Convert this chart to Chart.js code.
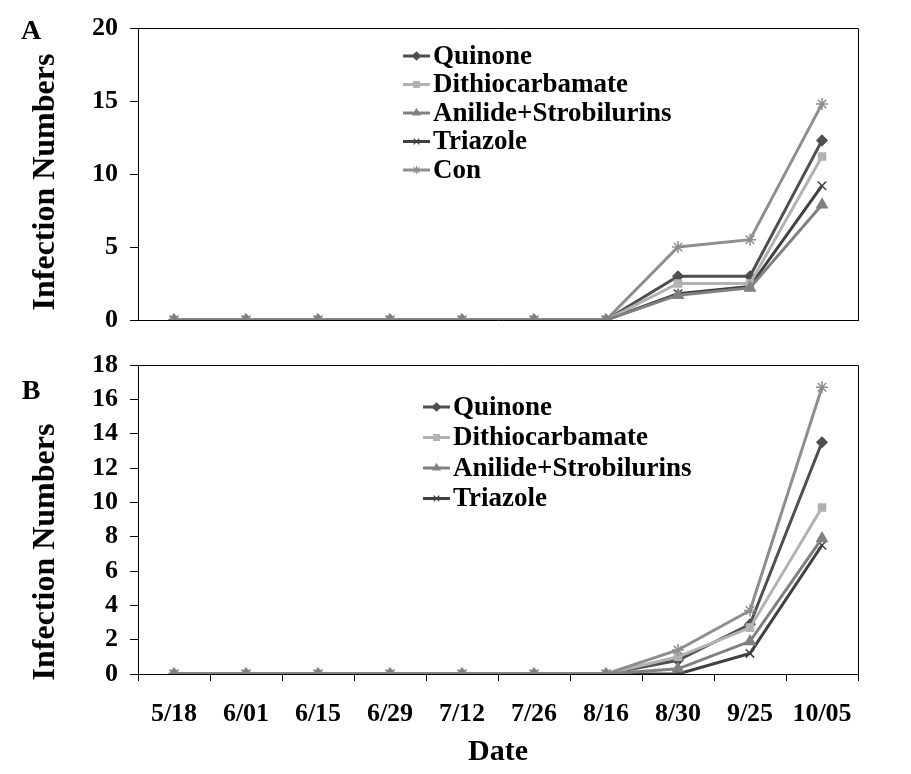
<!DOCTYPE html>
<html>
<head>
<meta charset="utf-8">
<script src="https://cdn.jsdelivr.net/npm/chart.js@4.4.0/dist/chart.umd.min.js"></script>
<style>
  body { margin: 0; background: #fff; }
  #wrap { position: relative; width: 911px; height: 774px; }
  canvas { position: absolute; left: 0; }
  #chartA { top: 0; }
  #chartB { top: 340px; }
</style>
</head>
<body>
<div id="wrap">
  <canvas id="chartA" width="911" height="345"></canvas>
  <canvas id="chartB" width="911" height="434"></canvas>
</div>
<script>
// DATA
const dates = ["5/18", "6/01", "6/15", "6/29", "7/12", "7/26", "8/16", "8/30", "9/25", "10/05"];

// panel A
const quinoneA  = [0, 0, 0, 0, 0, 0, 0, 3.0, 3.0, 12.3];
const dithioA   = [0, 0, 0, 0, 0, 0, 0, 2.5, 2.5, 11.2];
const anilideA  = [0, 0, 0, 0, 0, 0, 0, 1.7, 2.2, 7.9];
const triazoleA = [0, 0, 0, 0, 0, 0, 0, 1.8, 2.3, 9.2];
const conA      = [0, 0, 0, 0, 0, 0, 0, 5.0, 5.5, 14.8];

// panel B
const quinoneB  = [0, 0, 0, 0, 0, 0, 0, 0.8, 2.9, 13.5];
const dithioB   = [0, 0, 0, 0, 0, 0, 0, 1.0, 2.7, 9.7];
const anilideB  = [0, 0, 0, 0, 0, 0, 0, 0.3, 1.9, 7.9];
const triazoleB = [0, 0, 0, 0, 0, 0, 0, 0.0, 1.2, 7.5];
const conB      = [0, 0, 0, 0, 0, 0, 0, 1.4, 3.7, 16.7];

const ticksA = { min: 0, max: 20, step: 5 };
const ticksB = { min: 0, max: 18, step: 2 };

// series look (Excel greyscale)
const SERIF = '"Liberation Serif", "Times New Roman", serif';
const series = [
  { name: "Quinone",               color: "#4f4f4f", style: "rectRot",  radius: 5, order: 5 },
  { name: "Dithiocarbamate",       color: "#b2b2b2", style: "rect",     radius: 5, order: 3 },
  { name: "Anilide+Strobilurins",  color: "#808080", style: "triangle", radius: 6, order: 1 },
  { name: "Triazole",              color: "#404040", style: "crossRot", radius: 6, order: 4 },
  { name: "Con",                   color: "#8e8e8e", style: "star",     radius: 6, order: 2 }
];

function makeDatasets(values) {
  return values.map((vals, i) => ({
    label: series[i].name,
    data: vals,
    borderColor: series[i].color,
    backgroundColor: series[i].color,
    pointBackgroundColor: series[i].color,
    pointBorderColor: series[i].color,
    pointStyle: series[i].style,
    pointRadius: series[i].radius,
    pointBorderWidth: 1.5,
    borderWidth: 3,
    tension: 0,
    order: series[i].order
  }));
}

// frame, panel letter, y title, in-plot legend
const decor = {
  id: "decor",
  afterDraw(chart, args, o) {
    const ctx = chart.ctx;
    const a = chart.chartArea;
    ctx.save();
    ctx.strokeStyle = "#000";
    ctx.lineWidth = 1;
    ctx.beginPath();
    ctx.moveTo(a.left, a.top + 0.5);
    ctx.lineTo(a.right + 0.5, a.top + 0.5);
    ctx.lineTo(a.right + 0.5, a.bottom);
    ctx.stroke();

    ctx.fillStyle = "#000";
    ctx.font = "bold 28px " + SERIF;
    ctx.textAlign = "center";
    ctx.textBaseline = "middle";
    ctx.fillText(o.letter, o.letterX, o.letterY);

    ctx.save();
    ctx.translate(o.titleX, o.titleY);
    ctx.rotate(-Math.PI / 2);
    ctx.font = "bold 32px " + SERIF;
    ctx.textAlign = "center";
    ctx.textBaseline = "alphabetic";
    ctx.fillText("Infection Numbers", 0, 0);
    ctx.restore();

    // legend
    ctx.font = "bold 27px " + SERIF;
    ctx.textAlign = "left";
    ctx.textBaseline = "middle";
    for (let i = 0; i < o.count; i++) {
      const s = series[i];
      const y = o.legY + i * o.legGap;
      ctx.strokeStyle = s.color;
      ctx.lineWidth = 3;
      ctx.beginPath();
      ctx.moveTo(o.legX, y);
      ctx.lineTo(o.legX + 27, y);
      ctx.stroke();
      ctx.fillStyle = s.color;
      ctx.lineWidth = 1.2;
      if (Chart.helpers && Chart.helpers.drawPoint) {
        Chart.helpers.drawPoint(ctx, { pointStyle: s.style, radius: 4, borderWidth: 1.2, rotation: 0 }, o.legX + 13.5, y);
      }
      ctx.fillStyle = "#000";
      ctx.fillText(s.name, o.legX + 30, y + 1);
    }
    ctx.restore();
  }
};

function makeChart(id, values, tk, showX, opts) {
  return new Chart(document.getElementById(id), {
    type: "line",
    data: { labels: dates, datasets: makeDatasets(values) },
    plugins: [decor],
    options: {
      responsive: false,
      animation: false,
      devicePixelRatio: 1,
      layout: { padding: { top: opts.padTop, right: 53, left: 0, bottom: 0 } },
      plugins: {
        legend: { display: false },
        tooltip: { enabled: false },
        decor: opts
      },
      scales: {
        x: {
          offset: true,
          afterFit: s => { s.height = opts.xHeight; },
          grid: { display: showX, offset: true, drawOnChartArea: false, drawTicks: showX, tickLength: 7, color: "#000" },
          border: { display: true, color: "#000", width: 1 },
          ticks: { display: showX, color: "#000", padding: 18, maxRotation: 0, autoSkip: false, font: { family: SERIF, size: 26, weight: "bold" } },
          title: { display: showX, text: "Date", color: "#000", padding: { top: 0, bottom: 4 }, font: { family: SERIF, size: 30, weight: "bold" } }
        },
        y: {
          min: tk.min,
          max: tk.max,
          afterFit: s => { s.width = 138; },
          grid: { drawOnChartArea: false, drawTicks: true, tickLength: 8, color: "#000" },
          border: { display: true, color: "#000", width: 1 },
          ticks: { stepSize: tk.step, autoSkip: false, color: "#000", padding: 12, font: { family: SERIF, size: 26, weight: "bold", lineHeight: 1 } }
        }
      }
    }
  });
}

makeChart("chartA", [quinoneA, dithioA, anilideA, triazoleA, conA], ticksA, false, {
  padTop: 28, xHeight: 21,
  letter: "A", letterX: 31, letterY: 32,
  titleX: 54, titleY: 182,
  count: 5, legX: 403, legY: 56, legGap: 28.5
});

makeChart("chartB", [quinoneB, dithioB, anilideB, triazoleB, conB], ticksB, true, {
  padTop: 25, xHeight: 100,
  letter: "B", letterX: 31, letterY: 52,
  titleX: 54, titleY: 212,
  count: 4, legX: 423, legY: 67, legGap: 30.5
});
</script>
</body>
</html>
